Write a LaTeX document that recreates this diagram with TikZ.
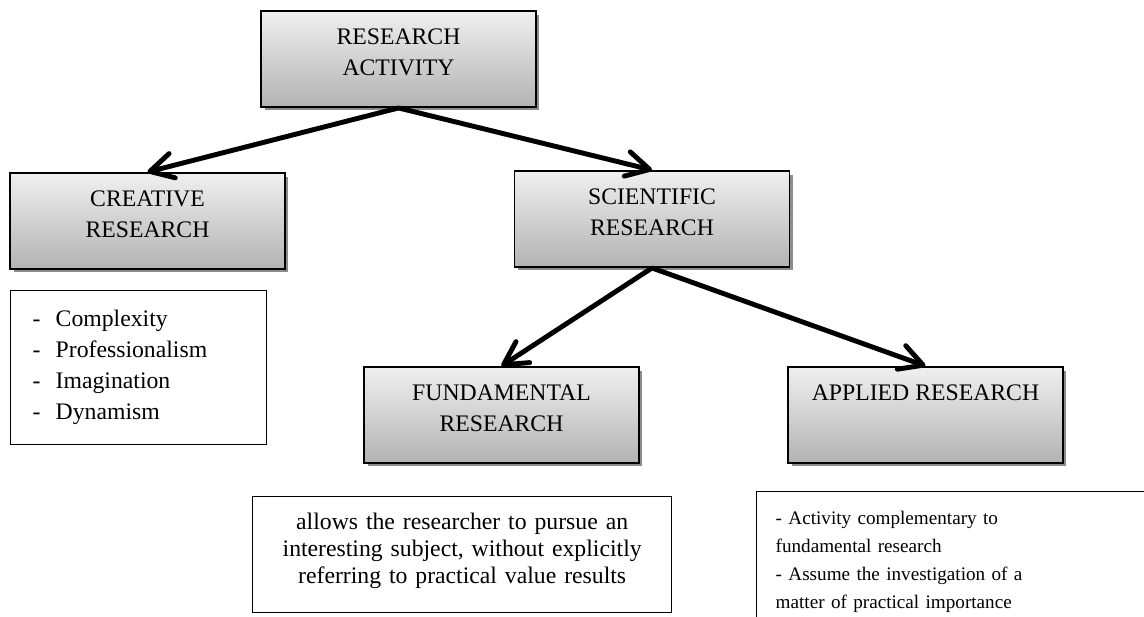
\documentclass[tikz,border=0pt]{standalone}
\usepackage{fontspec}
\setmainfont{Liberation Serif}
\usetikzlibrary{arrows.meta, shadows}

\begin{document}
\begin{tikzpicture}[
x=0.02cm, y=-0.02cm,
grybox/.style={draw, 
rectangle, 
line width=1.1pt, 
top color=black!6, 
bottom color=black!30, 
drop shadow={shadow xshift=0.07cm, shadow yshift=-0.07cm, fill=black!45, opacity=1}, 
minimum width=5.5cm, 
minimum height=1.92cm, 
text depth=0.26cm, 
align=center, 
font=\fontsize{13.5}{17.6}\selectfont}, 
txtbox/.style={draw, 
rectangle, 
line width=0.8pt, 
inner ysep=0pt, 
anchor=north west}, 
arrow/.style={-{Straight Barb[length=0.46cm, width=0.5cm, round]}, line width=2.8pt} 
]
\useasboundingbox (0,0) rectangle (1144,617);

\node[grybox] (act) at (398.5,59) {RESEARCH\\ACTIVITY};
\node[grybox] (crea) at (147.5,221) {CREATIVE\\RESEARCH};
\node[grybox] (sci) at (652,219) {SCIENTIFIC\\RESEARCH};
\node[grybox] (fund) at (501.5,415) {FUNDAMENTAL\\RESEARCH};
\node[grybox, text depth=0.88cm] (appl) at (925.5,415) {APPLIED RESEARCH};

\node[txtbox, inner xsep=0.44cm, text width=4.24cm, minimum height=3.08cm, align=left, 
font=\fontsize{13.5}{17.6}\selectfont] (crealist) at (10,290) 
{\makebox[0.46cm][l]{-}Complexity\\ \makebox[0.46cm][l]{-}Professionalism\\ 
\makebox[0.46cm][l]{-}Imagination\\ \makebox[0.46cm][l]{-}Dynamism};
\node[txtbox, inner xsep=0.2cm, text width=7.98cm, minimum height=2.32cm, text depth=1.34cm, align=center, 
font=\fontsize{13.5}{15.4}\selectfont] (funddesc) at (252,496) 
{allows the researcher to pursue an\\ interesting subject, without explicitly\\ referring to practical value results};
\node[txtbox, inner xsep=0.38cm, text width=8.04cm, minimum height=2.8cm, align=left, 
font=\fontsize{10.9}{15.9}\selectfont] (appldesc) at (756,491) 
{- Activity complementary to\\ fundamental research\\ - Assume the investigation of a\\ matter of practical importance};

\draw[arrow] (act.south) -- (crea.north);
\draw[arrow] (act.south) -- (sci.north);
\draw[arrow] (sci.south) -- (fund.north);
\draw[arrow] (sci.south) -- (appl.north);

\end{tikzpicture}
\end{document}
